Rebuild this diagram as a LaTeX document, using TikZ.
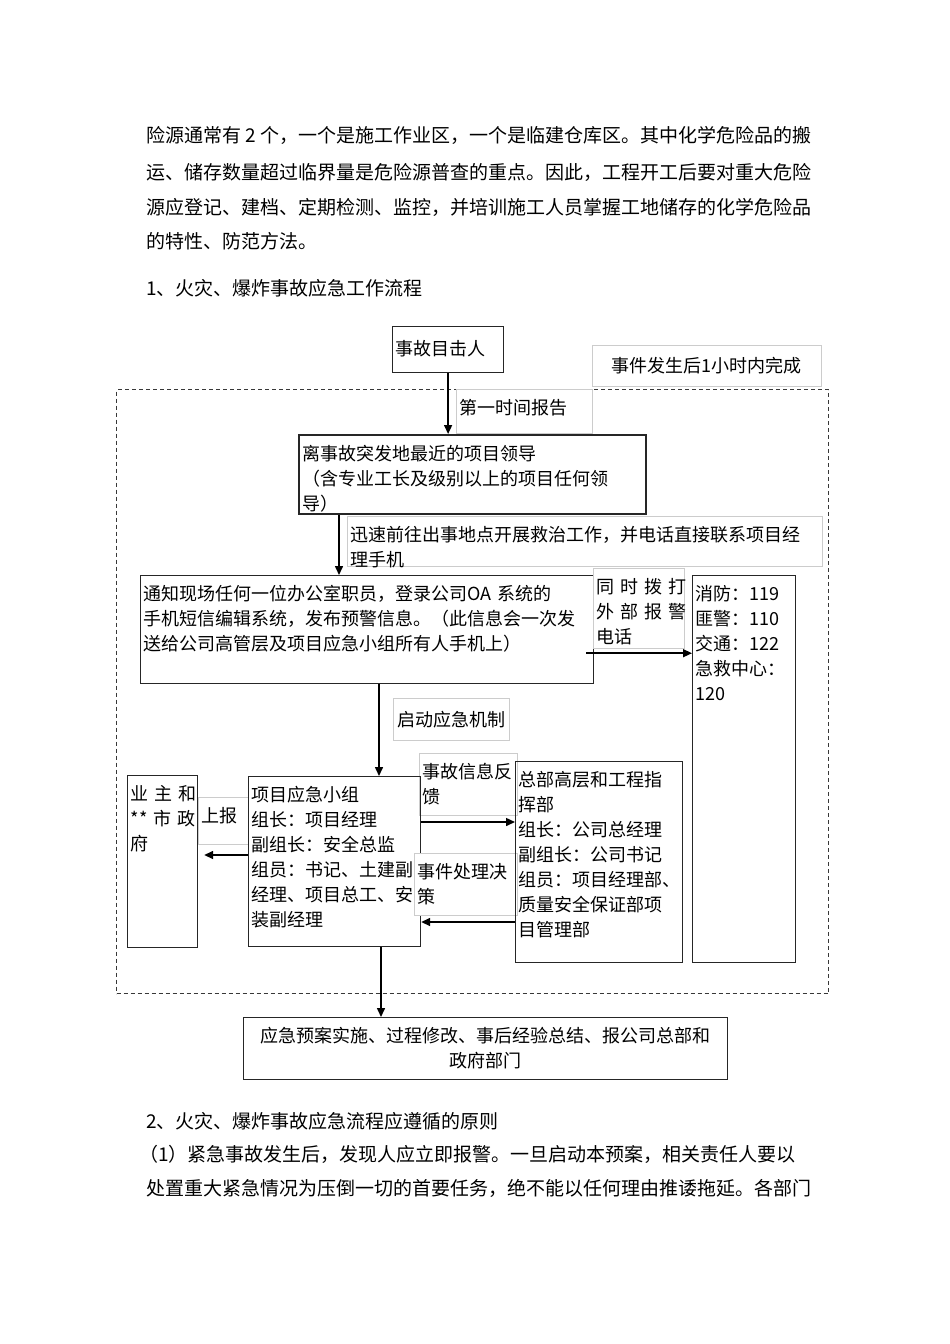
\documentclass[tikz,border=0pt]{standalone}
\usepackage{fontspec}
\setmainfont{Noto Sans CJK SC}
\usepackage{tikz}
\usetikzlibrary{arrows.meta,calc}
\definecolor{edgegray}{gray}{0.15}
\definecolor{notegray}{gray}{0.80}
\definecolor{zonegray}{gray}{0.22}

\begin{document}
\begin{tikzpicture}[
  x=1pt, y=-1pt,
  txt/.style={font=\fontsize{18}{25}\selectfont},
  frame/.style 2 args={draw=edgegray,line width=1.2pt,anchor=north west,inner xsep=3pt,inner ysep=3pt,align=left,text width=#1-6pt,text height=22pt,text depth=#2-28pt,txt},
  lead/.style 2 args={frame={#1}{#2},line width=2.2pt},
  note/.style 2 args={frame={#1}{#2},draw=notegray,line width=0.7pt,fill=white},
  midbox/.style 2 args={draw=edgegray,line width=1.2pt,anchor=north west,minimum width=#1,minimum height=#2,inner sep=2pt,align=center,txt},
  midnote/.style 2 args={midbox={#1}{#2},draw=notegray,line width=0.7pt,fill=white},
  zone/.style={draw=zonegray,dash pattern=on 4pt off 3pt,line width=1.3pt,anchor=north west,inner sep=0pt},
  flow/.style={-{Triangle[length=9pt,width=8pt]},line width=1.5pt},
  para/.style={anchor=west,inner sep=0pt,font=\fontsize{19}{19}\selectfont}
]
\useasboundingbox (0,0) rectangle (950,1344);

% running text above
\node[para] (intro1) at (146,135) {险源通常有 2 个，一个是施工作业区，一个是临建仓库区。其中化学危险品的搬};
\node[para] (intro2) at (146,172) {运、储存数量超过临界量是危险源普查的重点。因此，工程开工后要对重大危险};
\node[para] (intro3) at (146,207) {源应登记、建档、定期检测、监控，并培训施工人员掌握工地储存的化学危险品};
\node[para] (intro4) at (146,241) {的特性、防范方法。};
\node[para] (head1) at (146,288) {1、火灾、爆炸事故应急工作流程};

% one-hour zone
\node[zone,minimum width=712pt,minimum height=604pt] (zone) at (116,389) {};
\node[midnote={229pt}{41pt}] (hour) at (592,345) {事件发生后1小时内完成};

\node[frame={111pt}{46pt},text height=26pt,text depth=14pt] (witness) at (392,326) {事故目击人};
\node[note={136pt}{44pt}] (firstrep) at (456,389) {第一时间报告};
\node[lead={347pt}{79pt}] (leader) at (298,434)
  {离事故突发地最近的项目领导\\（含专业工长及级别以上的项目任何领\\导）};
\node[note={475pt}{50pt}] (rush) at (347,516)
  {迅速前往出事地点开展救治工作，并电话直接联系项目经\\理手机};
\node[frame={453pt}{108pt}] (notify) at (140,575)
  {通知现场任何一位办公室职员，登录公司OA 系统的\\手机短信编辑系统，发布预警信息。（此信息会一次发\\送给公司高管层及项目应急小组所有人手机上）};
\node[note={91pt}{80pt}] (dial) at (593,568) {同~时~拨~打\\外~部~报~警\\电话};
\node[frame={103pt}{387pt}] (alarm) at (692,575)
  {消防：119\\匪警：110\\交通：122\\急救中心：\\120};
\node[midnote={116pt}{42pt}] (launch) at (393,698) {启动应急机制};

% lower row
\node[note={98pt}{62pt}] (feedback) at (419,753) {事故信息反\\馈};
\node[frame={70pt}{172pt}] (owner) at (127,775) {业~主~和\\{}**~市~政\\府};
\node[note={50pt}{47pt}] (reportup) at (198,797) {上报};
\node[frame={172pt}{170pt}] (team) at (248,776)
  {项目应急小组\\组长：项目经理\\副组长：安全总监\\组员：书记、土建副\\经理、项目总工、安\\装副经理};
\node[note={103pt}{62pt}] (decision) at (414,853) {事件处理决\\策};
\node[frame={167pt}{201pt}] (hq) at (515,761)
  {总部高层和工程指\\挥部\\组长：公司总经理\\副组长：公司书记\\组员：项目经理部、\\质量安全保证部项\\目管理部};

\node[midbox={484pt}{62pt}] (final) at (243,1017)
  {应急预案实施、过程修改、事后经验总结、报公司总部和\\政府部门};

% connectors
\coordinate (rushout) at ([xshift=41pt]leader.south west);
\coordinate (ringout) at ([shift={(-8pt,31pt)}]notify.south east);
\coordinate (launchout) at ([xshift=239pt]notify.south west);
\coordinate (upout) at ([yshift=-79pt]team.north west);
\coordinate (fbout) at ([yshift=-46pt]team.north east);
\coordinate (fbin) at ([yshift=-161pt]hq.north west);
\coordinate (planout) at ([xshift=133pt]team.south west);

\draw[flow] (witness.south) -- (witness.south |- leader.north);
\draw[flow] (rushout) -- (rushout |- notify.north);
\draw[flow] (ringout) -- (ringout -| alarm.west);
\draw[flow] (launchout) -- (launchout |- team.north);
\draw[flow,shorten >=6pt] (upout) -- (upout -| owner.east);
\draw[flow] (fbout) -- (fbout -| hq.west);
\draw[flow] (fbin) -- (fbin -| team.east);
\draw[flow] (planout) -- (planout |- final.north);

% running text below
\node[para] (head2) at (146,1121) {2、火灾、爆炸事故应急流程应遵循的原则};
\node[para] (rule1) at (139,1154) {（1）紧急事故发生后，发现人应立即报警。一旦启动本预案，相关责任人要以};
\node[para] (rule2) at (146,1188) {处置重大紧急情况为压倒一切的首要任务，绝不能以任何理由推诿拖延。各部门};
\end{tikzpicture}
\end{document}
